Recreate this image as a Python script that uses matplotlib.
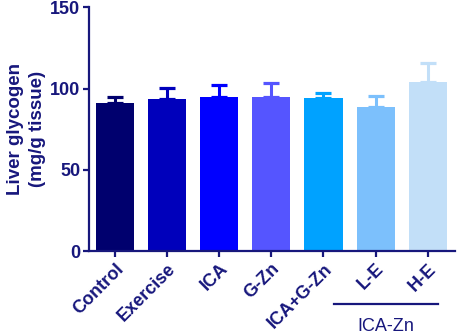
import matplotlib
matplotlib.use('Agg')
import matplotlib.pyplot as plt

# Liver glycogen data (mean, upper SD)
groups = ['Control', 'Exercise', 'ICA', 'G-Zn', 'ICA+G-Zn', 'L-E', 'H-E']
means = [91.4, 93.4, 94.9, 95.1, 94.4, 88.7, 104.3]
errors = [3.5, 6.8, 7.1, 8.2, 2.9, 6.8, 11.5]
colors = ['#00006e', '#0000bb', '#0000ff', '#5555ff', '#00a2ff', '#7cc0fc', '#c2dff8']
yticks = [0, 50, 100, 150]

navy = '#17177c'
plt.rcParams['font.family'] = ['Liberation Sans', 'DejaVu Sans']
plt.rcParams['font.weight'] = 'bold'

fig = plt.figure(figsize=(4.57, 3.35), dpi=100)
ax = fig.add_axes([0.1954, 0.2498, 0.80, 0.7284])

x = list(range(len(groups)))
ax.bar(x, means, width=0.73, color=colors, zorder=2)
for xi, m, e, c in zip(x, means, errors, colors):
    ax.errorbar(xi, m, yerr=[[0], [e]], fmt='none', ecolor=c,
                elinewidth=2.2, capsize=6, capthick=2.3, zorder=1)

ax.set_xlim(-0.49, 6.52)
ax.set_ylim(0, 150)
ax.set_yticks(yticks)
ax.set_xticks(x)
ax.set_xticklabels(groups, rotation=45, ha='right', rotation_mode='anchor',
                   fontsize=13, fontweight='bold', color=navy)
for lab in ax.get_yticklabels():
    lab.set_fontsize(13)
    lab.set_fontweight('bold')
    lab.set_color(navy)

for side in ['top', 'right']:
    ax.spines[side].set_visible(False)
for side in ['left', 'bottom']:
    ax.spines[side].set_color(navy)
    ax.spines[side].set_linewidth(1.6)
ax.tick_params(axis='both', colors=navy, width=1.6, length=4.5, pad=2)

ax.set_ylabel('Liver glycogen\n(mg/g tissue)', fontsize=13.5, fontweight='bold',
              color=navy, labelpad=3, linespacing=1.4)

# ICA-Zn group bracket
ax.plot([4.2, 6.19], [-32.4, -32.4], color=navy, lw=1.6, clip_on=False)
ax.text(5.2, -46, 'ICA-Zn', ha='center', va='center', fontsize=13,
        fontweight='normal', color=navy)

fig.savefig('out.png', dpi=100)
